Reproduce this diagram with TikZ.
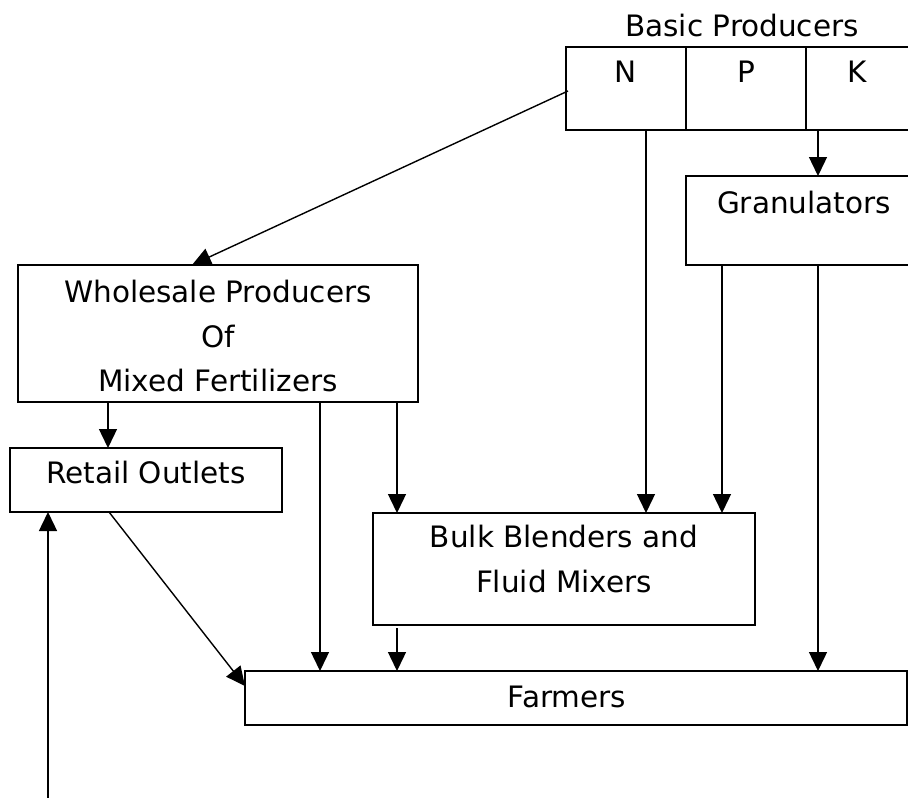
\documentclass[tikz,border=0pt]{standalone}
\usepackage{fontspec}
\setmainfont{DejaVu Sans}
\usetikzlibrary{arrows.meta}
\begin{document}
\begin{tikzpicture}[x=1pt,y=-1pt,
  every node/.style={font=\fontsize{29.5}{44}\selectfont, inner sep=0pt, outer sep=0pt},
  box/.style={draw, line width=1.8pt, anchor=north west},
  lbl/.style={text=black, anchor=base},
  arr/.style={line width=1.4pt, -{Triangle[length=19pt,width=18pt]}},
  line join=miter]
\clip (0,0) rectangle (908,798);
\fill[white] (0,0) rectangle (908,798);
% boxes
\node[box, minimum width=120pt, minimum height=83pt] (ncell) at (566,47) {};
\node[box, minimum width=120pt, minimum height=83pt] (pcell) at (686,47) {};
\node[box, minimum width=120pt, minimum height=83pt] (kcell) at (806,47) {};
\node[box, minimum width=240pt, minimum height=89pt] (gran) at (686,176) {};
\node[box, minimum width=400pt, minimum height=137pt] (whole) at (18,265) {};
\node[box, minimum width=272pt, minimum height=64pt] (retail) at (10,448) {};
\node[box, minimum width=382pt, minimum height=112pt] (bulk) at (373,513) {};
\node[box, minimum width=662pt, minimum height=54pt] (farm) at (245,671) {};
% texts
\node[lbl] (tbasic) at (742,36) {Basic Producers};
\node[lbl] (tn) at (626,82) {N};
\node[lbl] (tp) at (746,82) {P};
\node[lbl] (tk) at (857,82) {K};
\node[lbl] (tgran) at (804,213) {Granulators};
\node[lbl] (tw1) at (218,302) {Wholesale Producers};
\node[lbl] (tw2) at (218,347) {Of};
\node[lbl] (tw3) at (218,391) {Mixed Fertilizers};
\node[lbl] (tretail) at (146,483) {Retail Outlets};
\node[lbl] (tb1) at (564,547) {Bulk Blenders and};
\node[lbl] (tb2) at (564,592) {Fluid Mixers};
\node[lbl] (tfarm) at (567,707) {Farmers};
% connectors
\coordinate (nstart) at (568,91);
\coordinate (freeend) at (48,798);
\draw[arr] (nstart) -- (whole.north -| 192,0);
\draw[arr] (kcell.south -| 818,0) -- (gran.north -| 818,0);
\draw[arr] (ncell.south -| 646,0) -- (bulk.north -| 646,0);
\draw[arr] (gran.south -| 722,0) -- (bulk.north -| 722,0);
\draw[arr] (gran.south -| 818,0) -- (farm.north -| 818,0);
\draw[arr] (whole.south -| 108,0) -- (retail.north -| 108,0);
\draw[arr] (whole.south -| 320,0) -- (farm.north -| 320,0);
\draw[arr] (whole.south -| 397,0) -- (bulk.north -| 397,0);
\draw[arr] ([yshift=-3pt]bulk.south -| 397,0) -- (farm.north -| 397,0);
\draw[arr] (retail.south -| 109,0) -- (farm.west |- 0,686);
\draw[arr] (freeend) -- (retail.south -| 48,0);
\end{tikzpicture}
\end{document}
